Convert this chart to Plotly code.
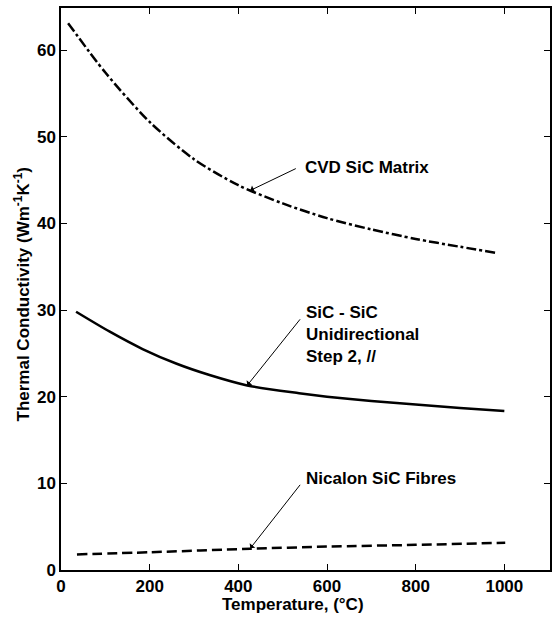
import plotly.graph_objects as go

# Data
cvd_x = [16, 100, 200, 300, 400, 500, 600, 700, 800, 900, 980]
cvd_y = [63.1, 57.4, 51.7, 47.4, 44.4, 42.3, 40.6, 39.3, 38.2, 37.3, 36.6]

sic_x = [34, 110, 184, 261, 335, 420, 537, 600, 700, 800, 900, 1000]
sic_y = [29.8, 27.5, 25.5, 23.8, 22.5, 21.3, 20.4, 20.0, 19.5, 19.1, 18.7, 18.35]

nic_x = [36, 200, 427, 600, 800, 1002]
nic_y = [1.8, 2.05, 2.45, 2.7, 2.9, 3.15]

x_ticks = [0, 200, 400, 600, 800, 1000]
y_ticks = [0, 10, 20, 30, 40, 50, 60]

labels = ["CVD SiC Matrix", "SiC - SiC<br>Unidirectional<br>Step 2, //", "Nicalon SiC Fibres"]
label_pos = [(546, 46.4), (548, 27.2), (548, 10.6)]
arrow_tips = [(427, 43.8), (420, 21.3), (427, 2.5)]
arrow_tails = [(533, 46.4), (542, 29.1), (542, 10.0)]

FONT = "Liberation Sans, Arial, Helvetica, sans-serif"
FS = 17

fig = go.Figure()
fig.add_trace(go.Scatter(x=cvd_x, y=cvd_y, mode="lines", line=dict(color="black", width=2.5, dash="10px,3px,3px,3px", shape="spline", smoothing=0.8), showlegend=False))
fig.add_trace(go.Scatter(x=sic_x, y=sic_y, mode="lines", line=dict(color="black", width=2.5, shape="spline", smoothing=0.8), showlegend=False))
fig.add_trace(go.Scatter(x=nic_x, y=nic_y, mode="lines", line=dict(color="black", width=2.5, dash="10px,5px", shape="spline", smoothing=0.8), showlegend=False))

annotations = []
for (tx, ty), (hx, hy) in zip(arrow_tips, arrow_tails):
    annotations.append(dict(x=tx, y=ty, ax=hx, ay=hy, xref="x", yref="y", axref="x", ayref="y",
                            text="", showarrow=True, arrowhead=1, arrowsize=1.2, arrowwidth=1, arrowcolor="black"))
for lab, (lx, ly) in zip(labels, label_pos):
    annotations.append(dict(x=lx, y=ly, xref="x", yref="y", text="<b>" + lab + "</b>", showarrow=False,
                            xanchor="left", yanchor="middle", align="left",
                            font=dict(family=FONT, size=FS, color="black")))
annotations.append(dict(x=524, y=-0.062, xref="x", yref="paper", text="<b>Temperature, (°C)</b>", showarrow=False,
                        xanchor="center", yanchor="middle", font=dict(family=FONT, size=FS, color="black")))
annotations.append(dict(x=-0.08, y=0.49, xref="paper", yref="paper", text="<b>Thermal Conductivity (Wm<sup>-1</sup>K<sup>-1</sup>)</b>",
                        showarrow=False, textangle=-90, xanchor="center", yanchor="middle",
                        font=dict(family=FONT, size=FS, color="black")))

fig.update_layout(
    width=552, height=619,
    margin=dict(l=61, r=0, t=8, b=49),
    paper_bgcolor="white", plot_bgcolor="white",
    font=dict(family=FONT, size=FS, color="black"),
    annotations=annotations,
    xaxis=dict(range=[0, 1103], tickvals=x_ticks, ticktext=["<b>%d</b>" % v for v in x_ticks],
               ticks="inside", ticklen=6, tickwidth=1.2, tickcolor="black", tickfont=dict(size=FS),
               showline=True, linecolor="black", linewidth=1.5, mirror="ticks", showgrid=False, zeroline=False),
    yaxis=dict(range=[0, 64.85], tickvals=y_ticks, ticktext=["<b>%d</b>" % v for v in y_ticks],
               ticks="inside", ticklen=6, tickwidth=1.2, tickcolor="black", tickfont=dict(size=FS),
               showline=True, linecolor="black", linewidth=1.5, mirror="ticks", showgrid=False, zeroline=False),
)

fig.write_html("out.html")
